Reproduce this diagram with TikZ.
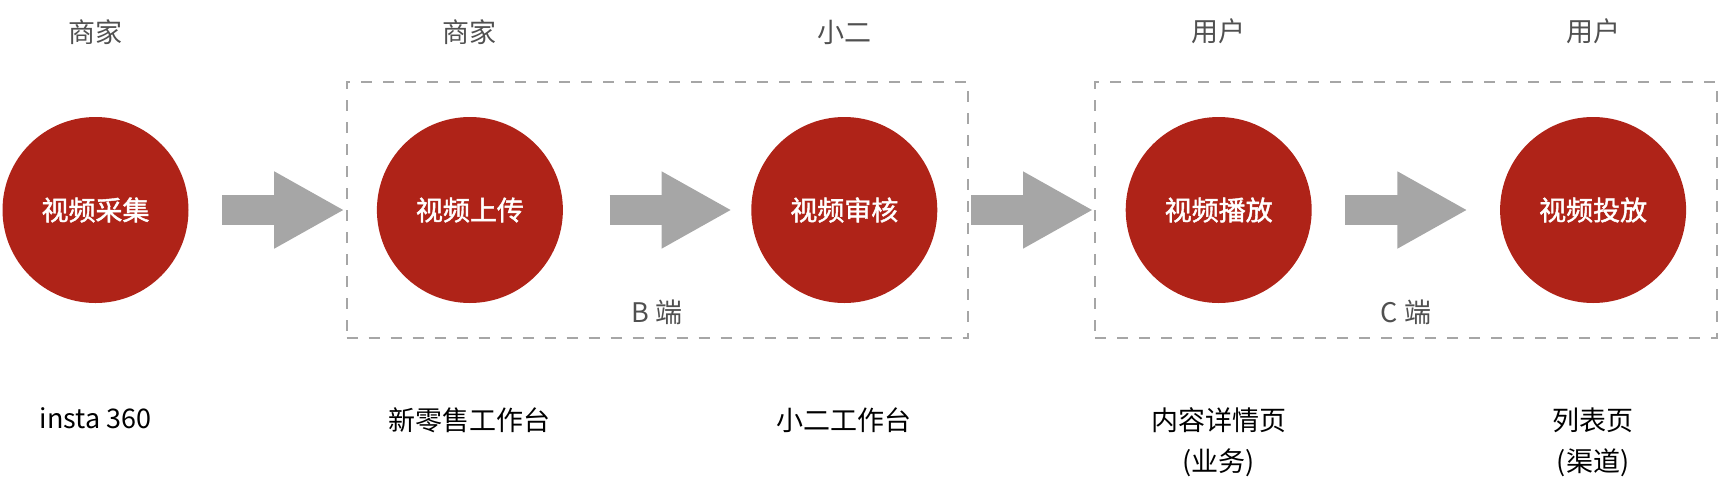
\documentclass[tikz,border=0pt]{standalone}
\usepackage{fontspec}
\setmainfont{Noto Sans CJK SC}
\newfontfamily\stagefont{Noto Sans CJK SC}[FakeBold=1.6]
\usepackage{tikz}
\usetikzlibrary{positioning, arrows.meta, fit}
\definecolor{stagered}{RGB}{175,35,24}
\definecolor{flowgray}{RGB}{166,166,166}
\definecolor{rolegray}{RGB}{80,80,80}

\begin{document}
\begin{tikzpicture}[
  x=0.5pt, y=-0.5pt,
  node distance=93.8pt,
  stage/.style={circle, fill=stagered, minimum size=93pt, inner sep=0pt,
                font=\fontsize{13.5}{16}\stagefont, text=white},
  role/.style={inner sep=0pt, font=\fontsize{13.5}{16}\selectfont, text=rolegray},
  tool/.style={inner sep=0pt, font=\fontsize{13.5}{20.5}\selectfont, align=center},
  flow/.style={-{Triangle[length=34.5pt, width=38.5pt, line width=0.8pt]},
               line width=15pt, color=flowgray,
               shorten <=16.65pt, shorten >=16.65pt},
  side/.style={draw=flowgray, line width=1pt, dash pattern=on 5.5pt off 5.5pt,
               inner xsep=15pt, inner ysep=17.5pt},
]
  \useasboundingbox (0,0) rectangle (1720,488);

  % Stages of the video pipeline
  \node[stage] (collect) at (95.5,210) {视频采集};
  \node[stage, right=of collect] (upload) {视频上传};
  \node[stage, right=of upload] (review) {视频审核};
  \node[stage, right=of review] (play) {视频播放};
  \node[stage, right=of play] (deliver) {视频投放};

  % Who does each step
  \node[role, above=36pt of collect] (rcollect) {商家};
  \node[role, above=36pt of upload] (rupload) {商家};
  \node[role, above=36pt of review] (rreview) {小二};
  \node[role, above=36pt of play] (rplay) {用户};
  \node[role, above=36pt of deliver] (rdeliver) {用户};

  % Where it happens
  \node[tool, below=51.8pt of collect] (tcollect) {insta 360};
  \node[tool, below=51.8pt of upload] (tupload) {新零售工作台};
  \node[tool, below=51.8pt of review] (treview) {小二工作台};
  \node[tool, below=51.8pt of play] (tplay) {内容详情页\\(业务)};
  \node[tool, below=51.8pt of deliver] (tdeliver) {列表页\\(渠道)};

  % B / C groups
  \node[side, fit=(upload)(review)] (bside) {};
  \node[side, fit=(play)(deliver)] (cside) {};
  \node[role] (bname) at ([yshift=13.5pt]bside.south) {B 端};
  \node[role] (cname) at ([yshift=13.5pt]cside.south) {C 端};

  \draw[flow] (collect) -- (upload);
  \draw[flow, shorten <=23.15pt, shorten >=10.15pt] (upload) -- (review);
  \draw[flow] (review) -- (play);
  \draw[flow] (play) -- (deliver);
\end{tikzpicture}
\end{document}
